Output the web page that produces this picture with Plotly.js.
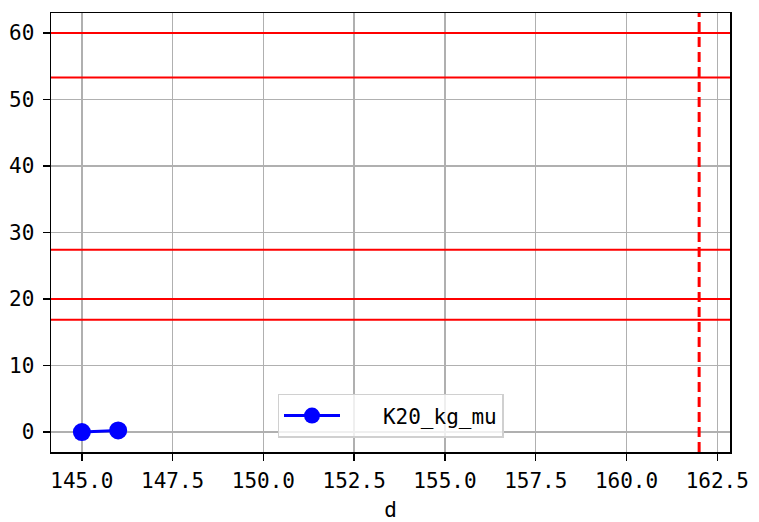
<!DOCTYPE html>
<html><head><meta charset="utf-8">
<script src="https://cdn.plot.ly/plotly-3.0.1.min.js"></script>
<style>body{margin:0;background:#fff}#c{width:759px;height:522px}</style>
</head><body><div id="c"></div>
<script>
const dVals = [145, 146];
const kVals = [0, 0.25];
const hLines = [60, 53.3, 27.4, 20.0, 16.9];
const vLines = [162];
const xTickVals = [145, 147.5, 150, 152.5, 155, 157.5, 160, 162.5];
const xTickText = ["145.0", "147.5", "150.0", "152.5", "155.0", "157.5", "160.0", "162.5"];
const yTickVals = [0, 10, 20, 30, 40, 50, 60];
const seriesName = "K20_kg_mu";

const FONT = "DejaVu Sans Mono, monospace";
const shapes = [];
hLines.forEach(v => shapes.push({type:'line', xref:'paper', x0:0, x1:1, yref:'y', y0:v, y1:v,
  line:{color:'#ff0000', width:2}, layer:'above'}));
vLines.forEach(v => shapes.push({type:'line', yref:'paper', y0:0, y1:1, xref:'x', x0:v, x1:v,
  line:{color:'#ff0000', width:3, dash:'10px,5px'}, layer:'above'}));

const trace = {x:dVals, y:kVals, mode:'lines+markers', name:'\u00a0\u00a0\u00a0' + seriesName,
  line:{color:'#0000ff', width:3}, marker:{color:'#0000ff', size:18}, cliponaxis:false};

const axisCommon = {showline:true, mirror:true, linecolor:'#000', linewidth:1.5,
  ticks:'outside', ticklen:7, tickwidth:1.5, tickcolor:'#000',
  showgrid:true, gridcolor:'#b0b0b0', gridwidth:1.5, zeroline:false,
  tickfont:{family:FONT, size:21, color:'#000'}};

const layout = {
  width:759, height:522,
  margin:{l:51, r:29, t:13, b:70},
  paper_bgcolor:'#fff', plot_bgcolor:'#fff',
  showlegend:true,
  font:{family:FONT, size:21, color:'#000'},
  xaxis:Object.assign({}, axisCommon, {range:[144.15, 162.85], tickmode:'array',
    tickvals:xTickVals, ticktext:xTickText, ticklabelstandoff:2,
    title:{text:'d', font:{family:FONT, size:21, color:'#000'}, standoff:14}}),
  yaxis:Object.assign({}, axisCommon, {range:[-3, 63], tickmode:'array', tickvals:yTickVals,
    ticklabelstandoff:4}),
  legend:{x:0.5, xanchor:'center', y:0.032, yanchor:'bottom',
    bgcolor:'rgba(255,255,255,0.8)', bordercolor:'#d0d0d0', borderwidth:1.5,
    itemwidth:56, font:{family:FONT, size:21, color:'#000'}},
  shapes:shapes
};
Plotly.newPlot('c', [trace], layout, {staticPlot:true});
</script></body></html>
